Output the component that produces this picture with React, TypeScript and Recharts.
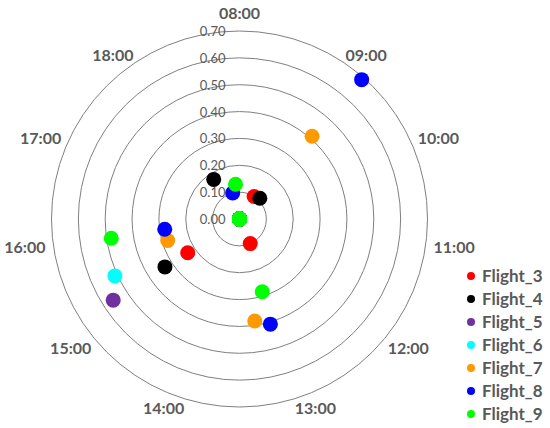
import React from 'react';
import { RadarChart, PolarGrid, PolarAngleAxis, PolarRadiusAxis, Radar, Legend } from 'recharts';

const hourTicks = [8, 9, 10, 11, 12, 13, 14, 15, 16, 17, 18];
const radiusTicks = [0, 0.1, 0.2, 0.3, 0.4, 0.5, 0.6, 0.7];

// t = hour of day, r = radial value
const flight3 = [
  { t: 9.01, r: 0.1 },
  { t: 12.78, r: 0.1 },
  { t: 15.24, r: 0.23 },
];
const flight4 = [
  { t: 9.36, r: 0.108 },
  { t: 17.99, r: 0.176 },
  { t: 15.25, r: 0.33 },
];
const flight5 = [{ t: 15.25, r: 0.559 }];
const flight6 = [{ t: 15.5, r: 0.51 }];
const flight7 = [
  { t: 9.26, r: 0.41 },
  { t: 15.74, r: 0.279 },
  { t: 13.24, r: 0.384 },
];
const flight8 = [
  { t: 9.26, r: 0.69 },
  { t: 18.55, r: 0.1 },
  { t: 16.01, r: 0.281 },
  { t: 13.0, r: 0.408 },
];
const flight9 = [
  { t: 8, r: 0 },
  { t: 18.8, r: 0.13 },
  { t: 15.99, r: 0.483 },
  { t: 12.97, r: 0.284 },
];

const seriesNames = ['Flight_3', 'Flight_4', 'Flight_5', 'Flight_6', 'Flight_7', 'Flight_8', 'Flight_9'];
const seriesColors = ['#FF0000', '#000000', '#7030A0', '#00FFFF', '#FF9900', '#0000FF', '#00FF00'];
const seriesPoints = [flight3, flight4, flight5, flight6, flight7, flight8, flight9];

const rows: any[] = [];
seriesPoints.forEach((pts, si) => {
  pts.forEach((p) => {
    rows.push({ t: p.t, [seriesNames[si]]: p.r });
  });
});

const TEXT = '#595959';
const FONT = 'Lato, "Open Sans", sans-serif';

const fmtHour = (h: number) => `${String(h).padStart(2, '0')}:00`;

const AngleTick = (props: any) => {
  const { x, y, payload, textAnchor } = props;
  const isMiddle = textAnchor === 'middle';
  return (
    <text
      x={x}
      y={isMiddle ? y - 11 : y}
      textAnchor={textAnchor}
      dominantBaseline="central"
      fill={TEXT}
      fontSize={16}
      fontWeight="bold"
      fontFamily={FONT}
    >
      {fmtHour(payload.value)}
    </text>
  );
};

const RadiusTick = (props: any) => {
  const { x, y, payload } = props;
  return (
    <text
      x={x - 14}
      y={y}
      textAnchor="end"
      dominantBaseline="central"
      fill={TEXT}
      fontSize={13}
      fontFamily={FONT}
    >
      {Number(payload.value).toFixed(2)}
    </text>
  );
};

const makeDot = (color: string) => (props: any) => {
  const { cx, cy, index } = props;
  if (typeof cx !== 'number' || typeof cy !== 'number' || !isFinite(cx) || !isFinite(cy)) {
    return <g key={`d-${index}`} />;
  }
  return <circle key={`d-${index}`} cx={cx} cy={cy} r={7.5} fill={color} stroke="none" />;
};

const LegendContent = () => (
  <div style={{ fontFamily: FONT }}>
    {seriesNames.map((n, i) => (
      <div key={n} style={{ display: 'flex', alignItems: 'center', height: 23.05 }}>
        <svg width={12} height={12} style={{ marginRight: 5 }}>
          <circle cx={6} cy={6} r={4} fill={seriesColors[i]} />
        </svg>
        <span style={{ color: TEXT, fontWeight: 'bold', fontSize: 17 }}>{n}</span>
      </div>
    ))}
  </div>
);

export default function App() {
  return (
    <div style={{ position: 'absolute', left: 0, top: 0, width: 550, height: 428, background: '#fff' }}>
      <RadarChart
        width={550}
        height={428}
        data={rows}
        cx={239.5}
        cy={219}
        outerRadius={188}
        startAngle={90}
        endAngle={-270}
        margin={{ top: 0, right: 0, bottom: 0, left: 0 }}
      >
        <PolarGrid gridType="circle" radialLines={false} stroke="#7F7F7F" strokeWidth={1} />
        <PolarAngleAxis
          dataKey="t"
          type="number"
          domain={[8, 19]}
          ticks={hourTicks}
          tick={AngleTick}
          tickLine={false}
          axisLine={false}
          tickSize={8}
          allowDataOverflow
        />
        <PolarRadiusAxis
          angle={90}
          type="number"
          domain={[0, 0.7]}
          ticks={radiusTicks}
          tickCount={8}
          allowDecimals
          tick={RadiusTick}
          axisLine={false}
          tickLine={false}
          allowDataOverflow
        />
        {seriesNames.map((n, i) => (
          <Radar
            key={n}
            name={n}
            dataKey={n}
            stroke="none"
            fill="none"
            fillOpacity={0}
            dot={makeDot(seriesColors[i])}
            isAnimationActive={false}
          />
        ))}
        <Legend
          layout="vertical"
          content={LegendContent}
          wrapperStyle={{ position: 'absolute', left: 465, top: 264, width: 90, bottom: 'auto', right: 'auto' }}
        />
      </RadarChart>
    </div>
  );
}
